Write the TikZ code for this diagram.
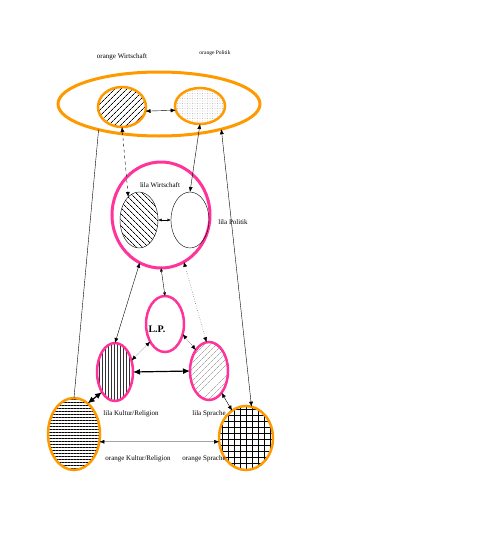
\documentclass[tikz,border=0pt]{standalone}
\usepackage{fontspec}
\setmainfont{Liberation Serif}
\usetikzlibrary{shapes.geometric,patterns.meta,arrows.meta}
\definecolor{orangeline}{RGB}{255,153,0}
\definecolor{lilaline}{RGB}{255,51,153}

\begin{document}
\begin{tikzpicture}[x=1pt,y=-1pt,
  every node/.style={outer sep=0pt},
  oval/.style={ellipse, inner sep=0pt},
  orangerand/.style={oval, draw=orangeline, line width=2.5pt},
  lilarand/.style={oval, draw=lilaline, line width=2.5pt},
  etikett/.style={font=\fontsize{7}{8}\selectfont, inner sep=0pt},
  pfeil/.style={{Latex[length=5pt,width=4pt]}-{Latex[length=5pt,width=4pt]}, thin},
  kurzpfeil/.style={{Latex[length=3.5pt,width=3pt]}-{Latex[length=3.5pt,width=3pt]}, thin},
  dickpfeil/.style={{Latex[length=7pt,width=6pt]}-{Latex[length=7pt,width=6pt]}, line width=1.2pt}]
\useasboundingbox (0,0) rectangle (493,541);

\node[orangerand, line width=3pt, minimum width=202, minimum height=64] (oo) at (159,104) {};
\node[orangerand, minimum width=48, minimum height=40, pattern={Lines[angle=45,distance=4pt,line width=0.8pt]}] (ow) at (122,107) {};
\node[orangerand, minimum width=50, minimum height=36, pattern={Dots[distance=2.5pt,radius=0.3pt]}, pattern color=gray!80] (op) at (200,106) {};

\node[lilarand, line width=3pt, minimum width=98, minimum height=106] (lc) at (161,215) {};
\node[oval, draw, minimum width=38, minimum height=56, pattern={Lines[angle=-45,distance=4pt,line width=0.7pt]}] (lw) at (139,220) {};
\node[oval, draw, minimum width=38, minimum height=56] (lp) at (190,220) {};

\node[lilarand, minimum width=38, minimum height=56] (lpn) at (165,324) {};
\node[font=\bfseries\fontsize{10}{12}\selectfont, inner sep=0pt] (lptext) at (157,329) {L.P.};
\node[lilarand, minimum width=36, minimum height=58, pattern={Lines[angle=90,distance=3pt,line width=0.4pt]}, pattern color=black!80] (lk) at (115,372) {};
\node[lilarand, minimum width=38, minimum height=58, pattern={Lines[angle=45,distance=4pt,line width=0.4pt]}, pattern color=gray] (ls) at (209,371) {};

\node[orangerand, minimum width=52, minimum height=72, pattern={Lines[angle=0,distance=3pt,line width=1pt]}] (ok) at (74,434) {};
\node[orangerand, minimum width=54, minimum height=64, pattern={Hatch[distance=6pt,line width=0.6pt]}] (os) at (246,438) {};

\node[etikett] (tow) at (122,57) {orange Wirtschaft};
\node[etikett, font=\fontsize{5.5}{6}\selectfont] (top) at (215,53) {orange Politik};
\node[etikett] (tlw) at (160,185) {lila Wirtschaft};
\node[etikett] (tlpo) at (233,222) {lila Politik};
\node[etikett] (tlk) at (131,414) {lila Kultur/Religion};
\node[etikett] (tls) at (209,414) {lila Sprache};
\node[etikett] (tok) at (138,459) {orange Kultur/Religion};
\node[etikett] (tos) at (204,459) {orange Sprache};

\draw[pfeil] (ow.-10) -- (op.190);
\draw[pfeil, dashed] (ow.south) -- (lw.115);
\draw[pfeil] (op.south) -- (lp.north);
\draw[pfeil] (oo.-22) -- (os.80);
\draw (oo.-157) -- (ok.north);
\draw[kurzpfeil] (lw.east) -- (lp.west);
\draw[kurzpfeil] (lc.south) -- (lpn.north);
\draw[pfeil] (lc.-114) -- (lk.north);
\draw[pfeil, dotted] (lc.-64) -- (ls.95);
\draw[pfeil, densely dotted] (lpn.-130) -- (lk.35);
\draw[pfeil, densely dotted] (lpn.-30) -- (ls.122);
\draw[dickpfeil] (lk.east) -- (ls.west);
\draw[dickpfeil] (lk.-123) -- (ok.66);
\draw[pfeil] (ls.-60) -- (os.117);
\draw[pfeil] (ok.-17.5) -- (os.188);
\end{tikzpicture}
\end{document}
